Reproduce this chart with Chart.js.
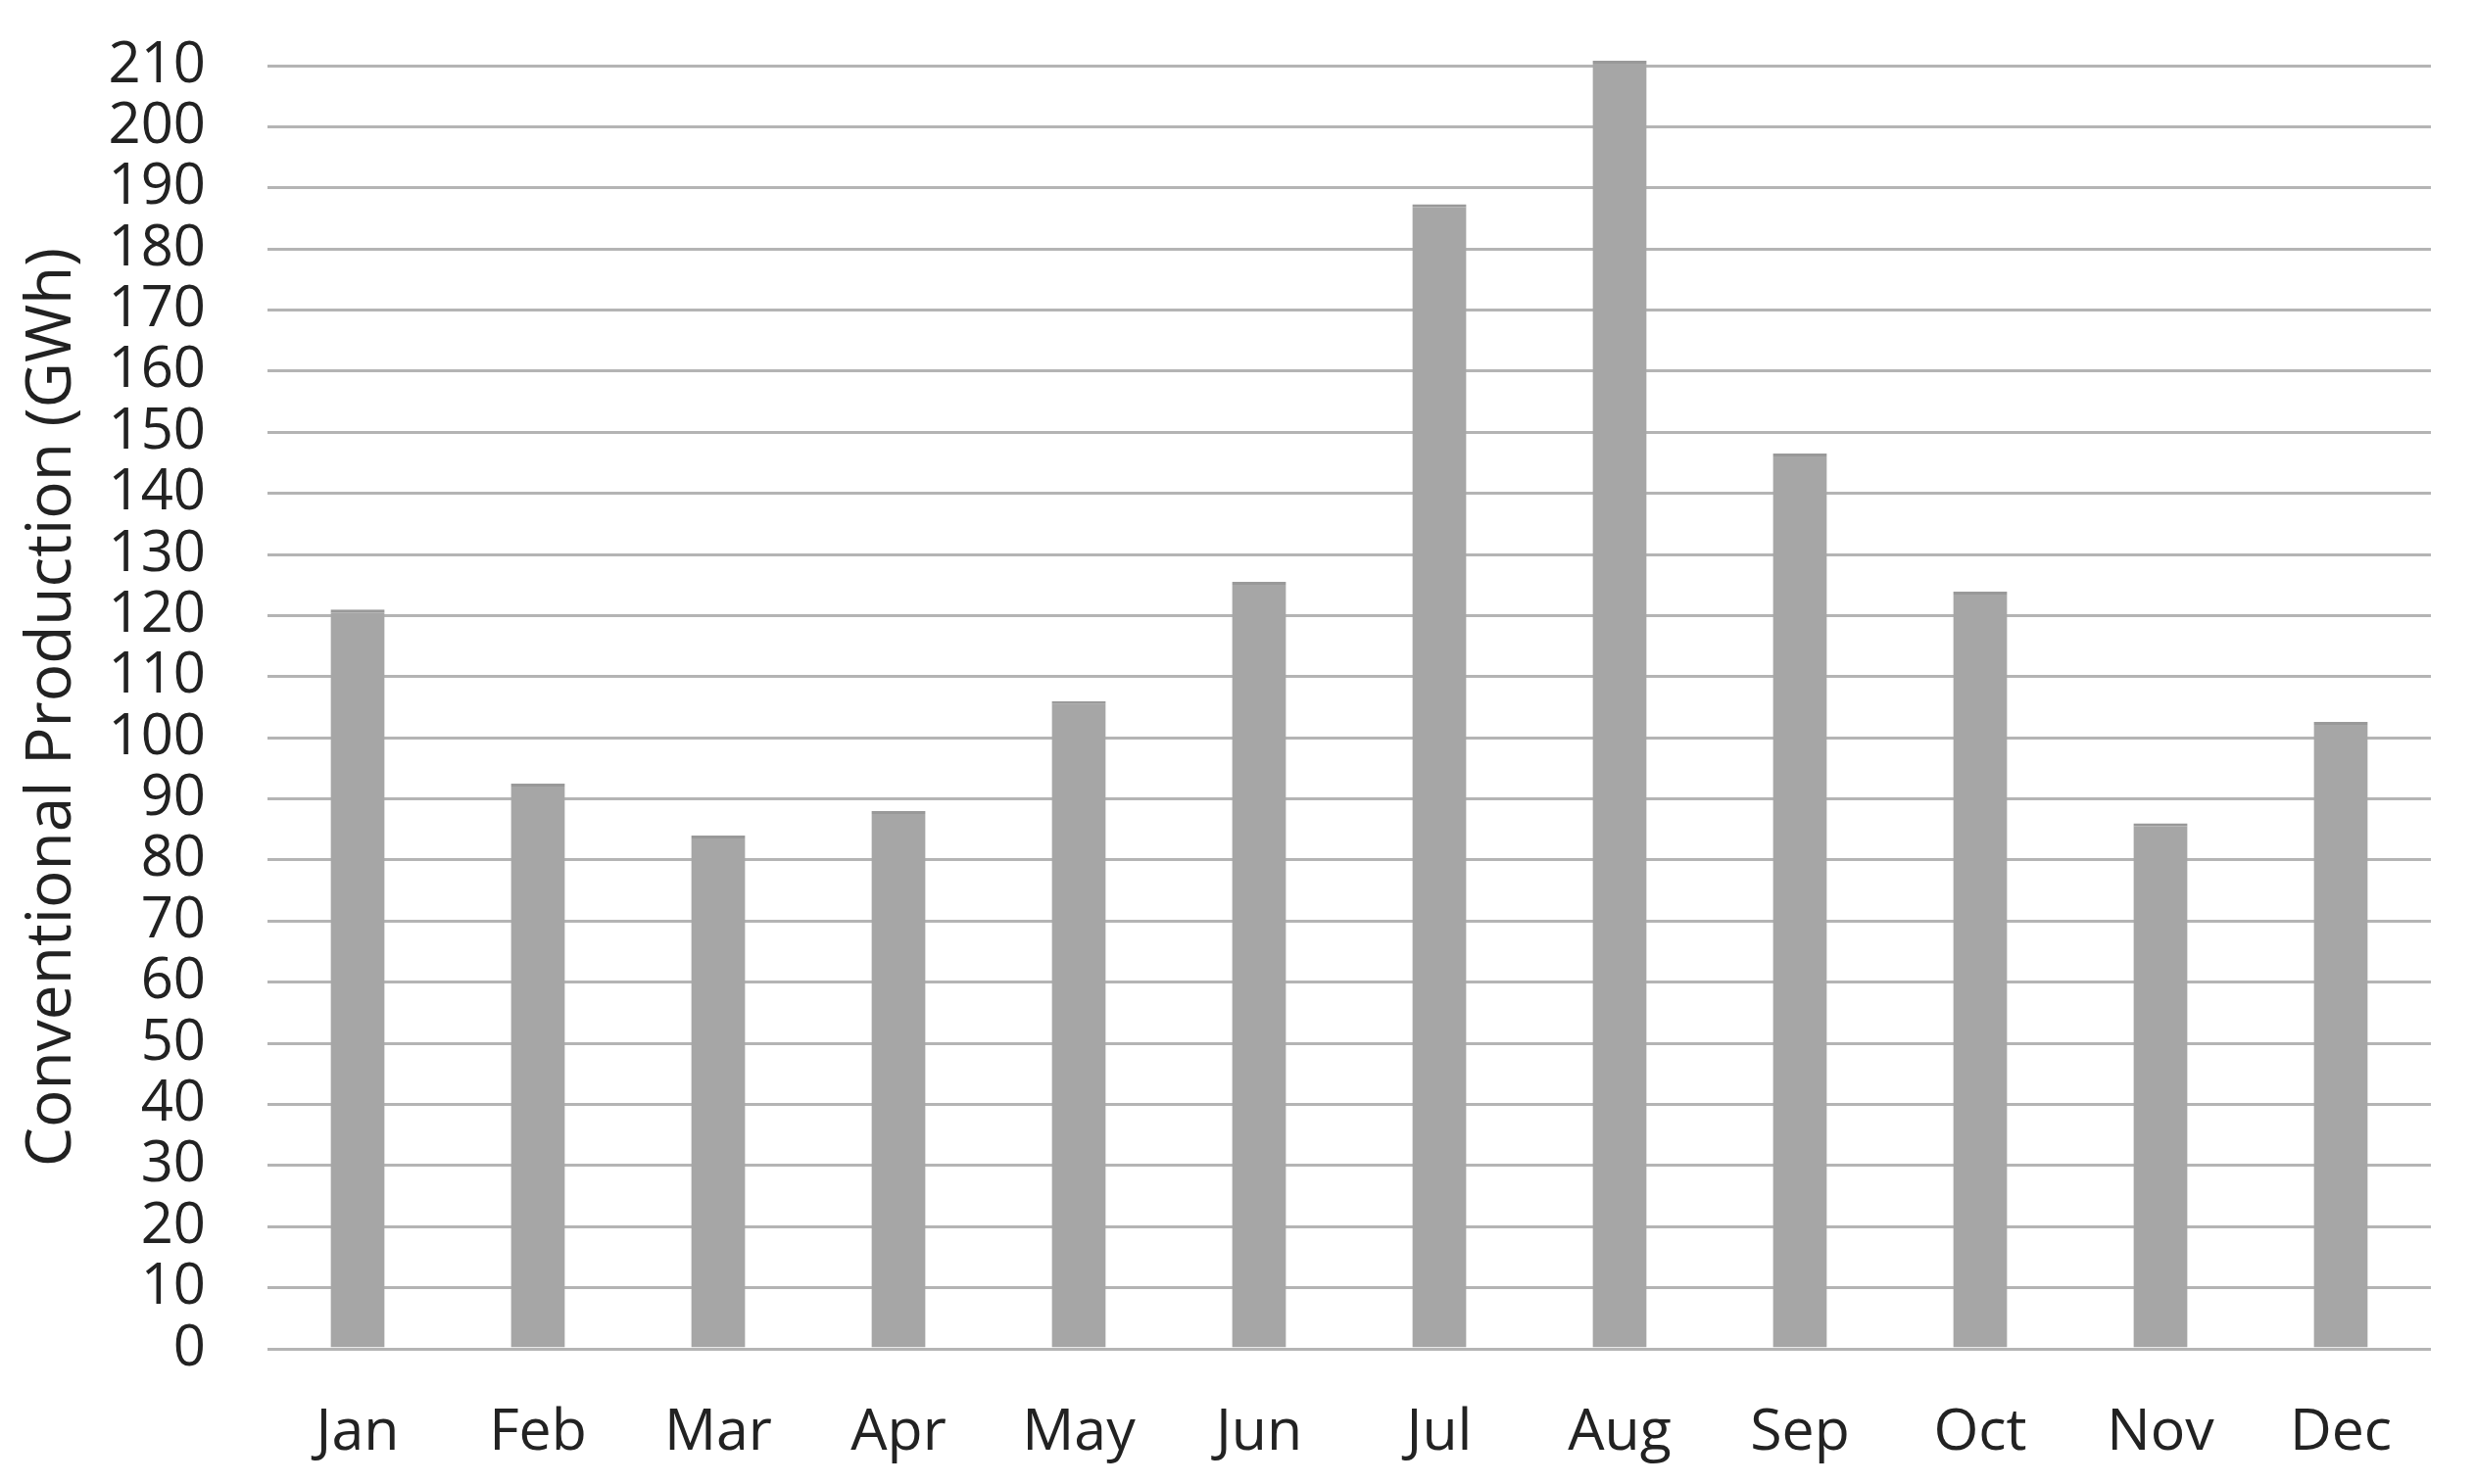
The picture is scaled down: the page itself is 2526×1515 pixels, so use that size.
<!DOCTYPE html>
<html>
<head>
<meta charset="utf-8">
<script src="https://cdn.jsdelivr.net/npm/chart.js@4"></script>
<style>
  html, body { margin: 0; padding: 0; background: #fff; }
  #wrap { width: 2526px; height: 1515px; }
</style>
</head>
<body>
<div id="wrap"><canvas id="myChart" width="2526" height="1515"></canvas></div>
<script>
// monthly conventional production
var months = ['Jan', 'Feb', 'Mar', 'Apr', 'May', 'Jun', 'Jul', 'Aug', 'Sep', 'Oct', 'Nov', 'Dec'];
var production = [121, 92.5, 84, 88, 106, 125.5, 187.3, 210.8, 146.5, 123.9, 86, 102.6];
var yMin = 0;
var yMax = 210;
var yStep = 10;

var font = "'Open Sans', 'Noto Sans', sans-serif";

const config = {
    type: 'bar',
    data: {
        labels: months,
        datasets: [{
            label: 'Conventional Production (GWh)',
            data: production,
            backgroundColor: '#a6a6a6',
            borderColor: '#999999',
            borderWidth: { top: 3, left: 0, right: 0, bottom: 0 },
            borderSkipped: false,
            barPercentage: 0.6,
            categoryPercentage: 0.5,
            clip: false
        }]
    },
    options: {
        responsive: false,
        animation: false,
        layout: { padding: { left: 0, right: 45, top: 67, bottom: 0 } },
        plugins: {
            legend: { display: false },
            tooltip: { enabled: false }
        },
        scales: {
            x: {
                grid: { display: false },
                border: { display: false },
                ticks: {
                    color: '#222',
                    font: { family: font, size: 59 },
                    padding: 43
                },
                afterFit: function (s) { s.height = 138; }
            },
            y: {
                min: yMin,
                max: yMax,
                grid: { color: '#b4b4b4', lineWidth: 3, drawTicks: false },
                border: { display: false },
                ticks: {
                    stepSize: yStep,
                    autoSkip: false,
                    color: '#222',
                    font: { family: font, size: 58 },
                    padding: 63
                },
                title: {
                    display: true,
                    text: 'Conventional Production (GWh)',
                    color: '#222',
                    font: { family: font, size: 64 },
                    padding: { top: 15, bottom: 0 }
                },
                afterFit: function (s) {
                    s.width = 273;
                    s.paddingTop = 0;
                }
            }
        }
    }
};

new Chart(document.getElementById('myChart'), config);
</script>
</body>
</html>
